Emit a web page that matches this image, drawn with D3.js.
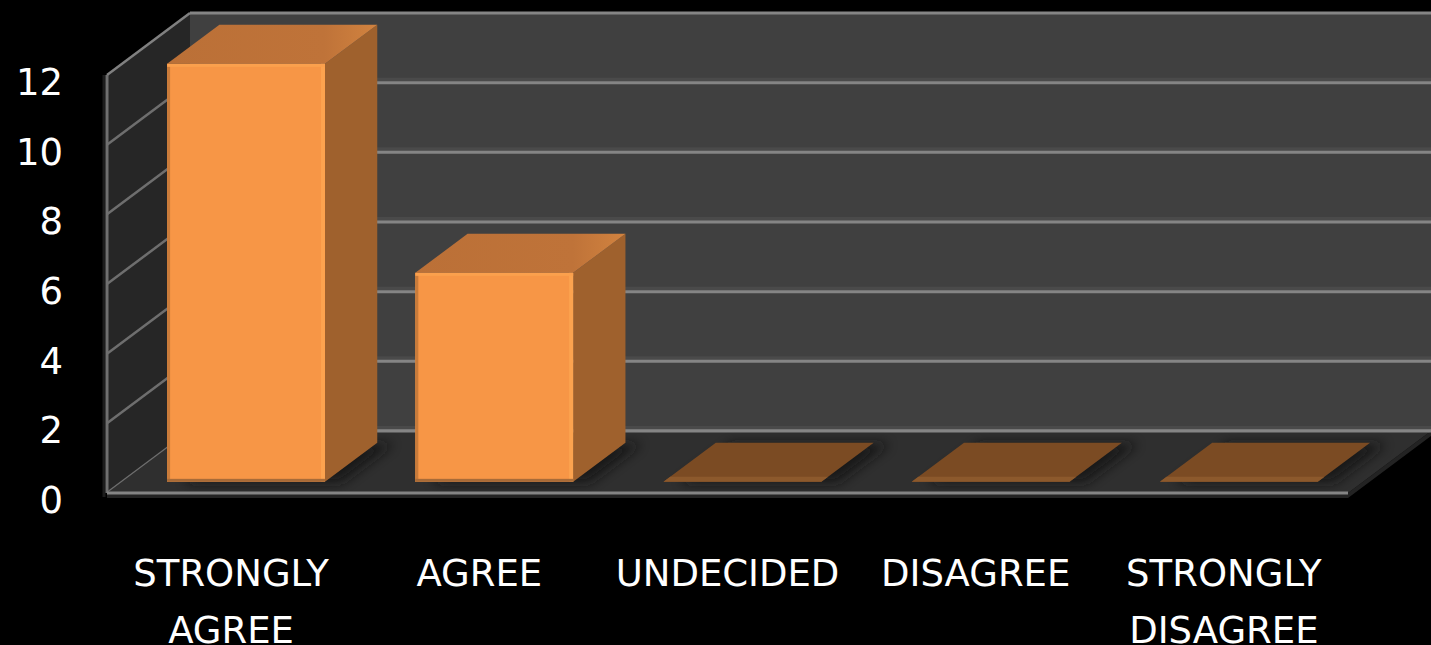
<!DOCTYPE html>
<html><head><meta charset="utf-8">
<script src="https://cdn.jsdelivr.net/npm/d3@7"></script>
<style>html,body{margin:0;padding:0;background:#000;overflow:hidden}</style>
</head><body><svg id="chart" width="1431" height="645"></svg>
<script>
const categories = ["STRONGLY AGREE","AGREE","UNDECIDED","DISAGREE","STRONGLY DISAGREE"];
const values = [12,6,0,0,0];
const yTicks = [0,2,4,6,8,10,12];

const W=1431,H=645;
const DX=83, DY=-62;      // depth projection of the full floor depth
const D0=0.18, D1=0.81;   // bar front/back depth fractions
const FONT='"DejaVu Sans", Verdana, sans-serif';
const svg=d3.select("#chart").style("background","#000");
svg.append("rect").attr("width",W).attr("height",H).attr("fill","#000");

const x=d3.scaleBand().domain(categories).range([107,1348]).paddingInner(0.364).paddingOuter(0.182);
const y=d3.scaleLinear().domain([0,d3.max(yTicks)]).range([493,75]);
const P=(xf,v,d)=>[xf+DX*d, y(v)+DY*d];
const poly=pts=>pts.map(p=>p.join(",")).join(" ");
const x0=x.range()[0], x1=x.range()[1];
const vmax=d3.max(yTicks);

const defs=svg.append("defs");
defs.append("filter").attr("id","blur").attr("x","-50%").attr("y","-50%").attr("width","200%").attr("height","200%")
  .append("feGaussianBlur").attr("stdDeviation",6);
defs.append("clipPath").attr("id","floorClip").append("polygon")
  .attr("points",poly([P(x0,0,0),P(x1,0,0),P(x1,0,1),[W,y(0)+DY],P(x0,0,1)]));
const tg=defs.append("linearGradient").attr("id","topGrad").attr("x1","0").attr("x2","1").attr("y1","0").attr("y2","0");
tg.append("stop").attr("offset","0").attr("stop-color","#bb7037");
tg.append("stop").attr("offset","0.75").attr("stop-color","#bf7339");
tg.append("stop").attr("offset","1").attr("stop-color","#d2833f");

// back wall
const bwTop=y(vmax)+DY, bwBot=y(0)+DY, bwLeft=P(x0,0,1)[0];
svg.append("rect").attr("x",bwLeft).attr("y",bwTop).attr("width",W-bwLeft).attr("height",bwBot-bwTop).attr("fill","#404040");
// back wall gridlines
yTicks.forEach(t=>{
  const p=P(x0,t,1);
  if(t!==vmax) svg.append("rect").attr("x",p[0]).attr("y",p[1]-5).attr("width",W-p[0]).attr("height",4).attr("fill","#4a4a4a");
  svg.append("line").attr("x1",p[0]).attr("x2",W).attr("y1",p[1]).attr("y2",p[1])
    .attr("stroke","#858585").attr("stroke-width",3);
});

// left wall
svg.append("polygon").attr("points",poly([P(x0,0,0),P(x0,vmax,0),P(x0,vmax,1),P(x0,0,1)])).attr("fill","#262626");
svg.append("line").attr("x1",x0-3).attr("x2",x0-3).attr("y1",y(vmax)).attr("y2",y(0)+4)
  .attr("stroke","#1c1c1c").attr("stroke-width",3);
yTicks.forEach(t=>{
  const a=P(x0,t,0), b=P(x0,t,1);
  svg.append("line").attr("x1",a[0]).attr("y1",a[1]).attr("x2",b[0]).attr("y2",b[1])
    .attr("stroke",t===vmax?"#808080":"#6e6e6e").attr("stroke-width",2.5);
});
svg.append("line").attr("x1",x0).attr("x2",x0).attr("y1",y(vmax)).attr("y2",y(0))
  .attr("stroke","#707070").attr("stroke-width",3);

// floor thickness + floor
const f0=P(x0,0,0), f1=P(x1,0,0), f2=P(x1,0,1);
svg.append("polygon").attr("points",poly([f0,f1,f2,[f2[0],f2[1]+5],[f1[0],f1[1]+5],[f0[0],f0[1]+5]])).attr("fill","#232323");
svg.append("polygon").attr("points",poly([f0,f1,f2,[W,f2[1]],P(x0,0,1)])).attr("fill","#2f2f2f");
svg.append("line").attr("x1",P(x0,0,1)[0]).attr("x2",W).attr("y1",y(0)+DY).attr("y2",y(0)+DY)
  .attr("stroke","#858585").attr("stroke-width",3);

// shadows
const shadows=svg.append("g").attr("clip-path","url(#floorClip)");
categories.forEach((c,i)=>{
  const xl=x(c), xr=x(c)+x.bandwidth();
  const pts=[P(xl,0,D0),P(xr,0,D0),P(xr,0,D1),P(xl,0,D1)].map(p=>[p[0]+16,p[1]+1]);
  shadows.append("polygon").attr("points",poly(pts)).attr("fill","#121212").attr("opacity",0.85).attr("filter","url(#blur)");
});

// bars
categories.forEach((c,i)=>{
  const v=values[i], xl=x(c), xr=x(c)+x.bandwidth();
  const g=svg.append("g");
  if(v>0){
    g.append("polygon").attr("points",poly([P(xr,0,D0),P(xr,v,D0),P(xr,v,D1),P(xr,0,D1)])).attr("fill","#9f612d");
    g.append("polygon").attr("points",poly([P(xl,v,D0),P(xr,v,D0),P(xr,v,D1),P(xl,v,D1)])).attr("fill","url(#topGrad)");
    const [fl,ft]=P(xl,v,D0), [fr,fb]=P(xr,0,D0);
    g.append("rect").attr("x",fl).attr("y",ft).attr("width",fr-fl).attr("height",fb-ft).attr("fill","#f79646");
    g.append("rect").attr("x",fl).attr("y",ft).attr("width",3).attr("height",fb-ft).attr("fill","#c97b3a");
    g.append("rect").attr("x",fr-4).attr("y",ft).attr("width",4).attr("height",fb-ft).attr("fill","#fca34f");
    g.append("rect").attr("x",fl).attr("y",ft).attr("width",fr-fl).attr("height",3).attr("fill","#fba04d");
    g.append("rect").attr("x",fl).attr("y",fb-3).attr("width",fr-fl).attr("height",3).attr("fill","#a86b38");
  } else {
    const a=P(xl,0,D0), b=P(xr,0,D0), cc=P(xr,0,D1), d=P(xl,0,D1);
    g.append("polygon").attr("points",poly([a,b,cc,d])).attr("fill","#7b4b23");
    const k=5;
    g.append("polygon").attr("points",poly([a,b,[b[0]+k*DX/-DY,b[1]-k],[a[0]+k*DX/-DY,a[1]-k]])).attr("fill","#8c592c");
  }
});

// front floor edge
svg.append("line").attr("x1",x0).attr("x2",x1).attr("y1",y(0)).attr("y2",y(0))
  .attr("stroke","#858585").attr("stroke-width",3);

// y tick labels
svg.append("g").selectAll("text").data(yTicks).join("text")
  .attr("x",63).attr("y",d=>y(d)+20).attr("text-anchor","end")
  .attr("font-family",FONT).attr("font-size",37).attr("fill","#ffffff").text(d=>d);

// category labels with wrapping
const lab=svg.append("g");
categories.forEach(c=>{
  const cx=x(c)+x.bandwidth()/2;
  const t=lab.append("text").attr("x",cx).attr("y",586).attr("text-anchor","middle")
    .attr("font-family",FONT).attr("font-size",37).attr("fill","#ffffff");
  const words=c.split(" ");
  let line=[], lineNo=0;
  let ts=t.append("tspan").attr("x",cx).attr("y",586);
  words.forEach(w=>{
    line.push(w); ts.text(line.join(" "));
    if(ts.node().getComputedTextLength()>x.step()-20 && line.length>1){
      line.pop(); ts.text(line.join(" "));
      line=[w]; lineNo++;
      ts=t.append("tspan").attr("x",cx).attr("y",586+57*lineNo).text(w);
    }
  });
});
</script></body></html>
